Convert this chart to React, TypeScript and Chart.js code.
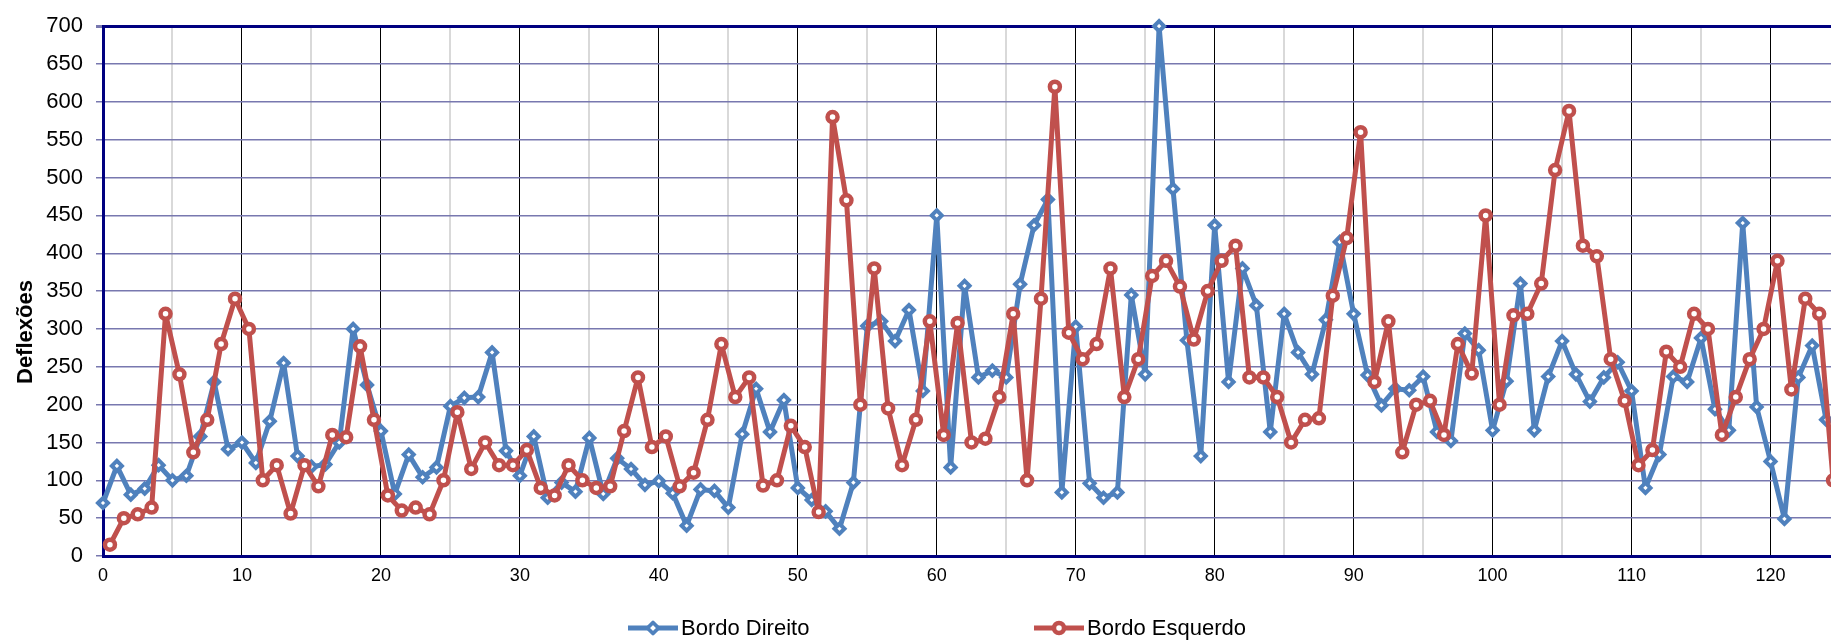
import React, { useEffect, useRef } from 'react';
import { Chart, registerables } from 'chart.js';

Chart.register(...registerables);

const seriesNames = ['Bordo Direito', 'Bordo Esquerdo'];
const yTitle = 'Deflexões';

const bordoDireito = [
  70, 119, 81, 89, 120, 100, 106, 158, 230, 141,
  150, 123, 178, 255, 132, 118, 121, 150, 300, 226,
  165, 82, 134, 104, 117, 198, 209, 210, 269, 139,
  106, 158, 77, 97, 85, 156, 82, 129, 115, 94,
  99, 83, 40, 88, 86, 64, 161, 221, 164, 206,
  90, 74, 59, 36, 97, 304, 310, 284, 325, 218,
  450, 117, 357, 236, 245, 236, 359, 437, 471, 84,
  303, 96, 77, 84, 345, 240, 700, 485, 285, 132,
  437, 230, 380, 331, 164, 320, 269, 240, 312, 415,
  320, 239, 199, 221, 219, 237, 164, 152, 294, 272,
  166, 231, 360, 166, 237, 284, 240, 204, 236, 256,
  218, 90, 134, 237, 230, 288, 194, 166, 440, 197,
  125, 49, 236, 278, 180,
];

const bordoEsquerdo = [
  15, 50, 55, 64, 320, 240, 137, 180, 280, 340,
  300, 100, 120, 56, 120, 92, 160, 157, 277, 180,
  80, 60, 64, 55, 100, 190, 115, 150, 120, 120,
  140, 90, 80, 120, 100, 90, 92, 165, 236, 144,
  158, 92, 110, 180, 280, 210, 236, 93, 100, 172,
  144, 58, 580, 470, 200, 380, 195, 120, 180, 310,
  160, 308, 150, 155, 210, 320, 100, 340, 620, 295,
  260, 280, 380, 210, 260, 370, 390, 356, 286, 350,
  390, 410, 236, 236, 210, 150, 180, 182, 344, 420,
  560, 230, 310, 137, 200, 205, 160, 280, 241, 450,
  200, 318, 320, 360, 510, 588, 410, 396, 260, 205,
  120, 140, 270, 250, 320, 300, 160, 210, 260, 300,
  390, 220, 340, 320, 100,
];

// stations: right edge readings at whole stations, left edge at half stations
const stationsDireito = bordoDireito.map((_, i) => i);
const stationsEsquerdo = bordoEsquerdo.map((_, i) => i + 0.5);

const X_MIN = 0;
const X_MAX = 125;
const Y_MIN = 0;
const Y_MAX = 700;

const BLUE = '#4F81BD';
const RED = '#C0504D';
const NAVY = '#000080';
const FONT = '"Liberation Sans", Arial, Helvetica, sans-serif';

function LegendItem({ color, label, kind, left }: { color: string; label: string; kind: 'diamond' | 'circle'; left: number }) {
  return (
    <div style={{ position: 'absolute', left, top: 613, height: 30, display: 'flex', alignItems: 'center', whiteSpace: 'nowrap' }}>
      <svg width={52} height={22} style={{ display: 'block' }}>
        <line x1={1} y1={11} x2={51} y2={11} stroke={color} strokeWidth={5} />
        {kind === 'diamond' ? (
          <polygon points="26,5.5 31.5,11 26,16.5 20.5,11" fill="#fff" stroke={color} strokeWidth={3.8} strokeLinejoin="round" />
        ) : (
          <circle cx={26} cy={11} r={5} fill="#fff" stroke={color} strokeWidth={4.5} />
        )}
      </svg>
      <span style={{ fontFamily: FONT, fontSize: 22, color: '#000', marginLeft: 2 }}>{label}</span>
    </div>
  );
}

export default function App() {
  const canvasRef = useRef<HTMLCanvasElement | null>(null);

  useEffect(() => {
    const canvas = canvasRef.current;
    if (!canvas) return;
    const chart = new Chart(canvas, {
      type: 'line',
      data: {
        datasets: [
          {
            label: seriesNames[0],
            data: bordoDireito.map((y, i) => ({ x: stationsDireito[i], y })),
            borderColor: BLUE,
            backgroundColor: '#FFFFFF',
            borderWidth: 5,
            borderJoinStyle: 'round',
            borderCapStyle: 'round',
            pointStyle: 'rectRot',
            pointRadius: 5,
            pointBorderWidth: 4,
            pointBackgroundColor: '#FFFFFF',
            pointBorderColor: BLUE,
            tension: 0,
            order: 1,
            clip: false as any,
          },
          {
            label: seriesNames[1],
            data: bordoEsquerdo.map((y, i) => ({ x: stationsEsquerdo[i], y })),
            borderColor: RED,
            backgroundColor: '#FFFFFF',
            borderWidth: 5,
            borderJoinStyle: 'round',
            borderCapStyle: 'round',
            pointStyle: 'circle',
            pointRadius: 5,
            pointBorderWidth: 4.5,
            pointBackgroundColor: '#FFFFFF',
            pointBorderColor: RED,
            tension: 0,
            order: 0,
            clip: false as any,
          },
        ],
      },
      options: {
        responsive: false,
        animation: false,
        layout: { padding: { top: 22, right: 20, bottom: 44, left: 0 } },
        plugins: {
          legend: { display: false },
          tooltip: { enabled: false },
        },
        scales: {
          x: {
            type: 'linear',
            min: X_MIN,
            max: X_MAX,
            ticks: {
              stepSize: 5,
              autoSkip: false,
              maxRotation: 0,
              padding: 9,
              color: '#000',
              font: { family: FONT, size: 18 },
              callback: (v: any) => (Number(v) % 10 === 0 ? String(v) : ''),
            },
            grid: {
              drawTicks: false,
              color: (ctx: any) => (ctx.tick && ctx.tick.value % 10 === 0 ? '#000000' : '#D9D9D9'),
              lineWidth: (ctx: any) => (ctx.tick && ctx.tick.value % 10 === 0 ? 1 : 2),
            },
            border: { color: NAVY, width: 3 },
            afterFit: (scale: any) => {
              scale.height = 40;
            },
          },
          y: {
            type: 'linear',
            min: Y_MIN,
            max: Y_MAX,
            ticks: {
              stepSize: 50,
              padding: 13,
              color: '#000',
              font: { family: FONT, size: 22 },
            },
            grid: {
              color: (ctx: any) => (ctx.tick && ctx.tick.value === Y_MAX ? NAVY : 'rgb(120,120,175)'),
              lineWidth: (ctx: any) => (ctx.tick && ctx.tick.value === Y_MAX ? 3 : 1.5),
              tickColor: 'rgb(120,120,175)',
              tickLength: 7,
            },
            border: { color: NAVY, width: 3 },
            afterFit: (scale: any) => {
              scale.width = 103;
            },
          },
        },
      } as any,
    });
    return () => chart.destroy();
  }, []);

  return (
    <div style={{ position: 'absolute', left: 0, top: 0, width: 1831, height: 640, overflow: 'hidden', background: '#fff' }}>
      <canvas ref={canvasRef} width={1860} height={640} style={{ position: 'absolute', left: 0, top: 0, width: 1860, height: 640 }} />
      <div
        style={{
          position: 'absolute',
          left: 24.5,
          top: 332,
          transform: 'translate(-50%, -50%) rotate(-90deg)',
          fontFamily: FONT,
          fontWeight: 'bold',
          fontSize: 22,
          whiteSpace: 'nowrap',
          color: '#000',
        }}
      >
        {yTitle}
      </div>
      <LegendItem color={BLUE} label={seriesNames[0]} kind="diamond" left={627} />
      <LegendItem color={RED} label={seriesNames[1]} kind="circle" left={1033} />
    </div>
  );
}
